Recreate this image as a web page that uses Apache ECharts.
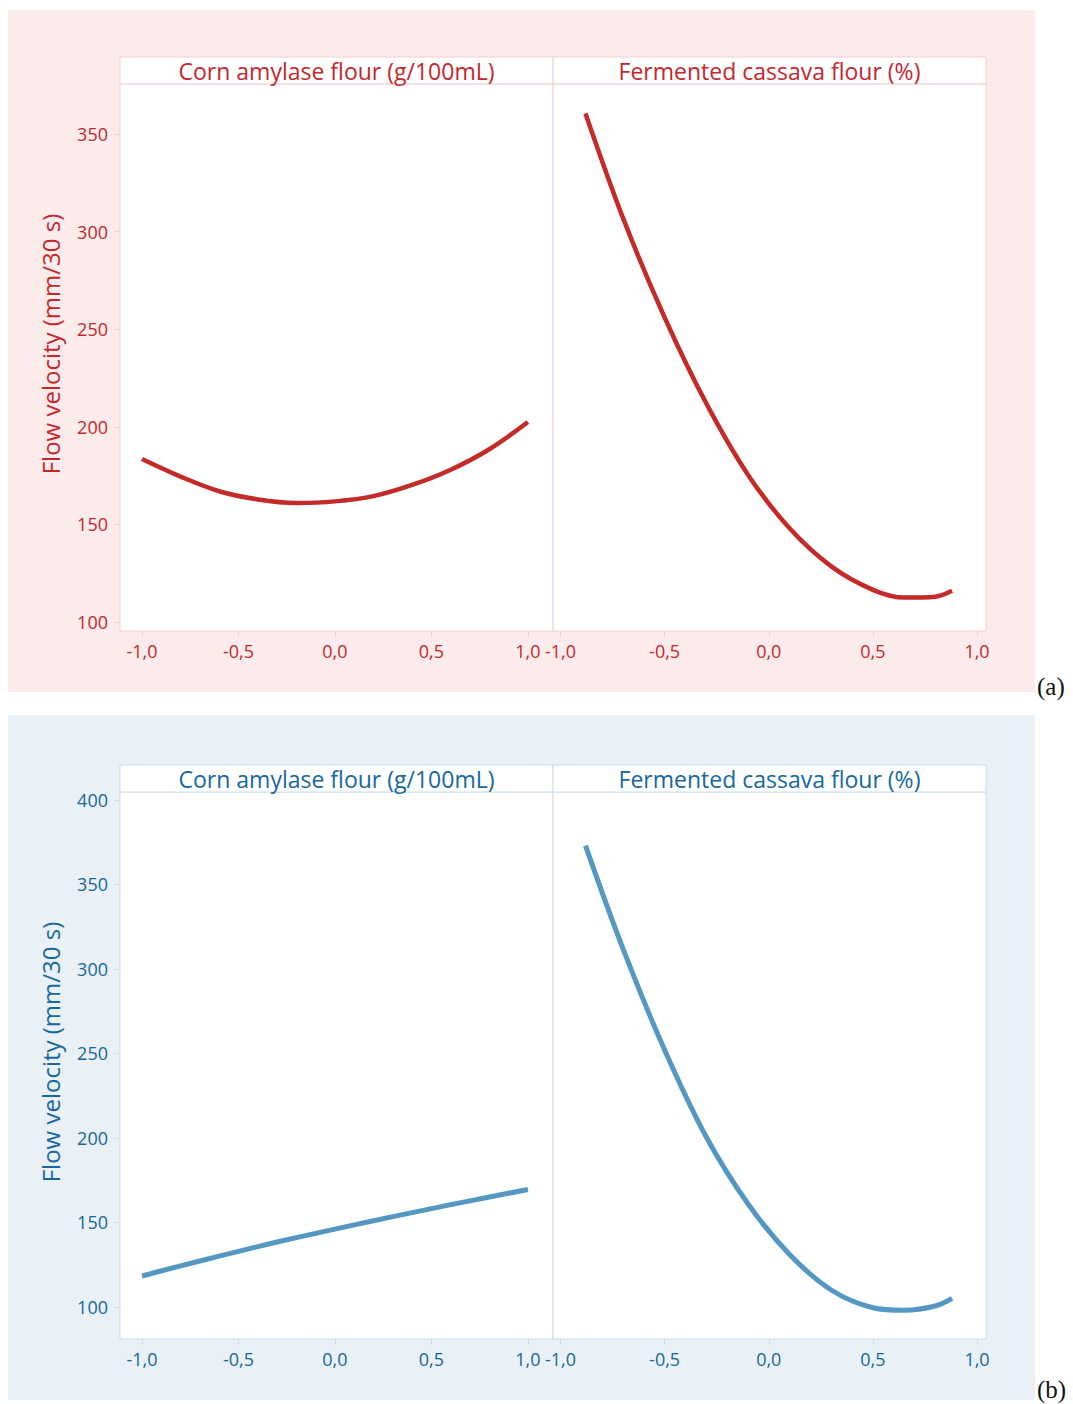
<!DOCTYPE html>
<html>
<head>
<meta charset="utf-8">
<script src="https://cdn.jsdelivr.net/npm/echarts@6/dist/echarts.min.js"></script>
<style>
  html, body { margin: 0; padding: 0; background: #ffffff; }
  #chart { width: 1073px; height: 1404px; }
</style>
</head>
<body>
<div id="chart"></div>
<script>
// Coded factor levels
const cornLevels = [-1.0, -0.8, -0.6, -0.4, -0.2, 0.0, 0.2, 0.4, 0.6, 0.8, 1.0];
const cassavaLevels = [-0.88, -0.7, -0.5, -0.3, -0.1, 0.1, 0.3, 0.5, 0.65, 0.8, 0.88];

// Fitted flow velocity (mm/30 s), panel (a)
const cornVelocityA = [183.5, 174.5, 167.0, 162.8, 161.0, 161.8, 164.5, 170.2, 178.0, 188.5, 202.5];
const cassavaVelocityA = [360.5, 307.0, 256.0, 212.0, 175.5, 148.0, 128.5, 116.5, 112.5, 113.0, 116.0];

// Fitted flow velocity (mm/30 s), panel (b)
const cornVelocityB = [118.3, 124.3, 130.0, 135.7, 141.0, 146.0, 151.0, 155.8, 160.5, 165.0, 169.5];
const cassavaVelocityB = [373.0, 312.0, 252.0, 200.5, 161.0, 131.0, 110.0, 99.5, 98.0, 100.5, 105.0];

// Tick values
const xTicks = [-1.0, -0.5, 0.0, 0.5, 1.0];
const yTicksA = [100, 150, 200, 250, 300, 350];
const yTicksB = [100, 150, 200, 250, 300, 350, 400];

const factorTitles = ['Corn amylase flour (g/100mL)', 'Fermented cassava flour (%)'];
const yTitle = 'Flow velocity (mm/30 s)';
const panelTags = ['(a)', '(b)'];

const FONT = '"Open Sans", "Noto Sans", sans-serif';
const themes = [
  { text: '#c4272c', line: '#c42a27', bg: '#fbebeb', border: '#f3cfcf', width: 4.5 },
  { text: '#16679e', line: '#5497c3', bg: '#e9f0f6', border: '#c9ddec', width: 5 }
];

const fmt = v => v.toFixed(1).replace('.', ',');

// Panel geometry (pixels)
const panels = [
  { top: 84, bgTop: 10, bgBottom: 692, tagY: 686, yMin: 95.4, yMax: 375.6, yTicks: yTicksA,
    corn: cornVelocityA, cassava: cassavaVelocityA },
  { top: 792, bgTop: 715, bgBottom: 1400, tagY: 1389, yMin: 81.0, yMax: 404.7, yTicks: yTicksB,
    corn: cornVelocityB, cassava: cassavaVelocityB }
];
const plotH = 547, headerH = 27;
const cols = [
  { left: 120, width: 433, xMin: -1.114, xMax: 1.13, xs: cornLevels, key: 'corn' },
  { left: 553, width: 433, xMin: -1.036, xMax: 1.043, xs: cassavaLevels, key: 'cassava' }
];

const grid = [], xAxis = [], yAxis = [], series = [], graphic = [];

panels.forEach((p, pi) => {
  const th = themes[pi];
  graphic.push({
    type: 'rect', z: -10, silent: true,
    shape: { x: 8, y: p.bgTop, width: 1027, height: p.bgBottom - p.bgTop },
    style: { fill: th.bg }
  });
  // Y-axis title, centred on the plot plus header strip
  graphic.push({
    type: 'text', x: 50, y: (p.top - headerH + p.top + plotH) / 2, rotation: Math.PI / 2,
    style: { text: yTitle, fill: th.text, font: '24px ' + FONT, align: 'center', verticalAlign: 'middle' }
  });
  graphic.push({
    type: 'text', x: 1037, y: p.tagY,
    style: { text: panelTags[pi], fill: '#111', font: '25px "Liberation Serif", "DejaVu Serif", serif', align: 'left', verticalAlign: 'middle' }
  });

  cols.forEach((c, ci) => {
    const idx = grid.length;
    // Header strip with the factor name
    graphic.push({
      type: 'rect', z: 1,
      shape: { x: c.left, y: p.top - headerH, width: c.width, height: headerH },
      style: { fill: '#ffffff', stroke: th.border, lineWidth: 1 }
    });
    graphic.push({
      type: 'text', z: 2, x: c.left + c.width / 2, y: p.top - headerH / 2,
      style: { text: factorTitles[ci], fill: th.text, font: '23px ' + FONT, align: 'center', verticalAlign: 'middle' }
    });

    grid.push({
      left: c.left, top: p.top, width: c.width, height: plotH,
      show: true, backgroundColor: '#ffffff', borderColor: th.border, borderWidth: 1
    });
    xAxis.push({
      type: 'value', gridIndex: idx, min: c.xMin, max: c.xMax,
      axisLine: { show: false, onZero: false },
      splitLine: { show: false },
      axisTick: { show: true, customValues: xTicks, length: 6, lineStyle: { color: th.border } },
      axisLabel: { customValues: xTicks, formatter: fmt, color: th.text, fontSize: 18, fontFamily: FONT, margin: 11 }
    });
    yAxis.push({
      type: 'value', gridIndex: idx, min: p.yMin, max: p.yMax,
      axisLine: { show: false, onZero: false },
      splitLine: { show: false },
      axisTick: { show: ci === 0, customValues: p.yTicks, length: 6, lineStyle: { color: th.border } },
      axisLabel: { show: ci === 0, customValues: p.yTicks, color: th.text, fontSize: 18, fontFamily: FONT, margin: 12 }
    });
    const ys = p[c.key];
    series.push({
      type: 'line', xAxisIndex: idx, yAxisIndex: idx,
      data: c.xs.map((x, i) => [x, ys[i]]),
      smooth: 0.35, showSymbol: false, silent: true,
      lineStyle: { color: th.line, width: th.width }
    });
  });
});

const chart = echarts.init(document.getElementById('chart'), null, { renderer: 'svg', width: 1073, height: 1404 });
chart.setOption({
  animation: false,
  backgroundColor: '#ffffff',
  grid, xAxis, yAxis, series, graphic
});
</script>
</body>
</html>
